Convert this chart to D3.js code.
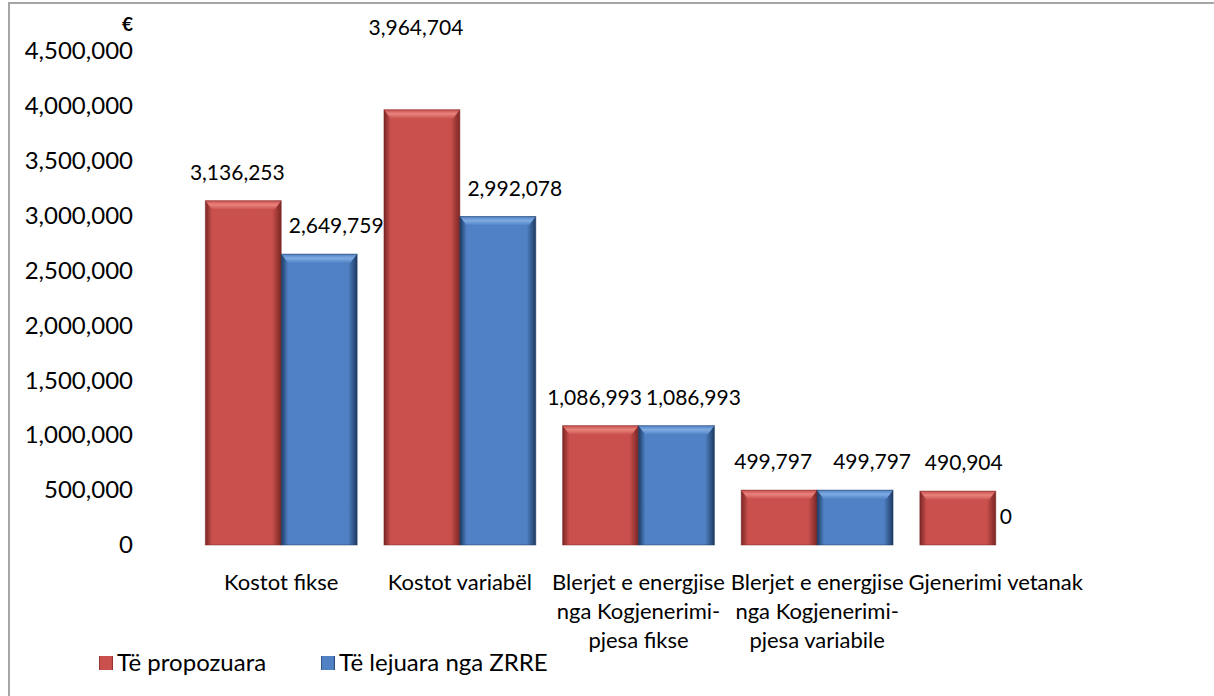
<!DOCTYPE html>
<html>
<head>
<meta charset="utf-8">
<script src="https://cdn.jsdelivr.net/npm/d3@7"></script>
<style>
  body { margin: 0; background: #fff; }
  svg text { font-family: Lato, "Open Sans", sans-serif; fill: #000; }
</style>
</head>
<body>
<svg id="chart"></svg>
<script>
// data
const categories = ["Kostot fikse", "Kostot variabël",
    "Blerjet e energjise nga Kogjenerimi-pjesa fikse",
    "Blerjet e energjise nga Kogjenerimi-pjesa variabile",
    "Gjenerimi vetanak"];
const categoryLines = [
    ["Kostot fikse"],
    ["Kostot variabël"],
    ["Blerjet e energjise", "nga Kogjenerimi-", "pjesa fikse"],
    ["Blerjet e energjise", "nga Kogjenerimi-", "pjesa variabile"],
    ["Gjenerimi vetanak"]];
const seriesNames = ["Të propozuara", "Të lejuara nga ZRRE"];
const proposed = [3136253, 3964704, 1086993, 499797, 490904];
const approved = [2649759, 2992078, 1086993, 499797, 0];
const yTicks = [0, 500000, 1000000, 1500000, 2000000, 2500000, 3000000, 3500000, 4000000, 4500000];
const unitLabel = "€";

// layout
const W = 1214, H = 696;
const plot = {left: 161, right: 1190, top: 51, bottom: 545};
const tickFont = 24, catFont = 22, valueFont = 21;
const palette = [
    {face: "#c9504c", edge: "#7a2624", top: "#e9837e"},
    {face: "#4f81c4", edge: "#1d3a62", top: "#80abe3"}
];
// data labels are pushed apart a little, like Excel does
const labelShift = [-6, 17];
const labelNudge = {"0-4": 12};
// the label of the tallest bar sits higher in the original
const labelRaise = {"0-1": 54};

const svg = d3.select("#chart").attr("width", W).attr("height", H);
const defs = svg.append("defs");

palette.forEach((p, i) => {
    const g = defs.append("linearGradient").attr("id", `side${i}`)
        .attr("x1", 0).attr("x2", 1).attr("y1", 0).attr("y2", 0);
    g.append("stop").attr("offset", "0%").attr("stop-color", p.edge);
    g.append("stop").attr("offset", "9%").attr("stop-color", p.face);
    g.append("stop").attr("offset", "88%").attr("stop-color", p.face);
    g.append("stop").attr("offset", "100%").attr("stop-color", p.edge);
    const t = defs.append("linearGradient").attr("id", `top${i}`)
        .attr("x1", 0).attr("x2", 0).attr("y1", 0).attr("y2", 1);
    t.append("stop").attr("offset", "0%").attr("stop-color", p.face);
    t.append("stop").attr("offset", "45%").attr("stop-color", p.top);
    t.append("stop").attr("offset", "100%").attr("stop-color", p.face);
});

const shadow = defs.append("filter").attr("id", "shadow")
    .attr("x", "-50%").attr("y", "-5%").attr("width", "400%").attr("height", "110%");
shadow.append("feDropShadow").attr("dx", 2).attr("dy", 1).attr("stdDeviation", 1.5)
    .attr("flood-color", "#000").attr("flood-opacity", 0.35);

// outer border
svg.append("rect")
    .attr("x", 9).attr("y", 3).attr("width", W + 20).attr("height", H + 20)
    .attr("fill", "none").attr("stroke", "#a6a6a6").attr("stroke-width", 2);

// scales
const y = d3.scaleLinear().domain([0, 4500000]).range([plot.bottom, plot.top]);
const x = d3.scaleBand().domain(categories).range([183, 1094])
    .paddingInner(0.15).paddingOuter(0.125);
const xs = d3.scaleBand().domain(seriesNames).range([0, x.bandwidth()]);
const fmt = d3.format(",");

// back wall edge on the right
svg.append("line")
    .attr("x1", plot.right).attr("x2", plot.right)
    .attr("y1", plot.top + 4).attr("y2", plot.bottom)
    .attr("stroke", "#8c8c8c").attr("stroke-width", 3)
    .attr("filter", "url(#shadow)");

// bars
const series = [proposed, approved];
const rows = [];
series.forEach((vals, si) => vals.forEach((v, ci) => rows.push({si, ci, v})));

const bars = svg.append("g").selectAll("g")
    .data(rows)
    .join("g")
    .attr("transform", d => `translate(${x(categories[d.ci]) + xs(seriesNames[d.si])}, 0)`);

bars.filter(d => d.v > 0).each(function(d) {
    const g = d3.select(this);
    const w = xs.bandwidth();
    const top = y(d.v), h = y(0) - top;
    const bev = Math.min(9, h / 2);
    g.append("rect")
        .attr("x", 0).attr("y", top).attr("width", w).attr("height", h)
        .attr("fill", `url(#side${d.si})`);
    g.append("path")
        .attr("d", `M0,${top} L${w},${top} L${w - 7},${top + bev} L7,${top + bev} Z`)
        .attr("fill", `url(#top${d.si})`);
    g.append("rect")
        .attr("x", 0).attr("y", top).attr("width", w).attr("height", h)
        .attr("fill", "none").attr("stroke", palette[d.si].edge)
        .attr("stroke-opacity", 0.5).attr("stroke-width", 1);
});

// value labels (a zero sits just beside the neighbouring bar)
bars.append("text")
    .attr("x", d => d.v === 0 ? 4
        : xs.bandwidth() / 2 + labelShift[d.si] + (labelNudge[`${d.si}-${d.ci}`] || 0))
    .attr("y", d => y(d.v) - 28 - (labelRaise[`${d.si}-${d.ci}`] || 0))
    .attr("dy", "0.35em")
    .attr("text-anchor", d => d.v === 0 ? "start" : "middle")
    .style("font-size", valueFont + "px")
    .text(d => fmt(d.v));

// axes lines
svg.append("line")
    .attr("x1", plot.left).attr("x2", plot.left)
    .attr("y1", plot.top).attr("y2", plot.bottom)
    .attr("stroke", "#8c8c8c").attr("stroke-width", 3)
    .attr("filter", "url(#shadow)");
svg.append("line")
    .attr("x1", plot.left).attr("x2", plot.right)
    .attr("y1", plot.bottom).attr("y2", plot.bottom)
    .attr("stroke", "#8c8c8c").attr("stroke-width", 3)
    .attr("filter", "url(#shadow)");

// y tick labels
const yAxis = d3.axisLeft(y).tickValues(yTicks).tickFormat(fmt).tickSize(0).tickPadding(28);
const yg = svg.append("g").attr("transform", `translate(${plot.left}, 0)`).call(yAxis);
yg.select(".domain").remove();
yg.selectAll("text").style("font-size", tickFont + "px")
    .style("font-family", "Lato, 'Open Sans', sans-serif").attr("fill", "#000");

svg.append("text")
    .attr("x", 133).attr("y", 24).attr("dy", "0.35em")
    .attr("text-anchor", "end")
    .style("font-size", "19px").style("font-weight", "bold")
    .text(unitLabel);

// category labels
svg.append("g").selectAll("text")
    .data(categories)
    .join("text")
    .attr("text-anchor", "middle")
    .attr("transform", d => `translate(${x(d) + x.bandwidth() / 2}, 582)`)
    .style("font-size", catFont + "px")
    .selectAll("tspan")
    .data((d, i) => categoryLines[i])
    .join("tspan")
    .attr("x", 0)
    .attr("y", (d, i) => i * 29)
    .attr("dy", "0.35em")
    .text(d => d);

// legend
const legendX = [99, 321];
const legend = svg.append("g").selectAll("g")
    .data(seriesNames)
    .join("g")
    .attr("transform", (d, i) => `translate(${legendX[i]}, 663)`);
legend.append("rect")
    .attr("x", 0).attr("y", -7).attr("width", 14).attr("height", 14)
    .attr("fill", (d, i) => `url(#side${i})`);
legend.append("text")
    .attr("x", 18).attr("dy", "0.35em")
    .style("font-size", tickFont + "px")
    .text(d => d);
</script>
</body>
</html>
